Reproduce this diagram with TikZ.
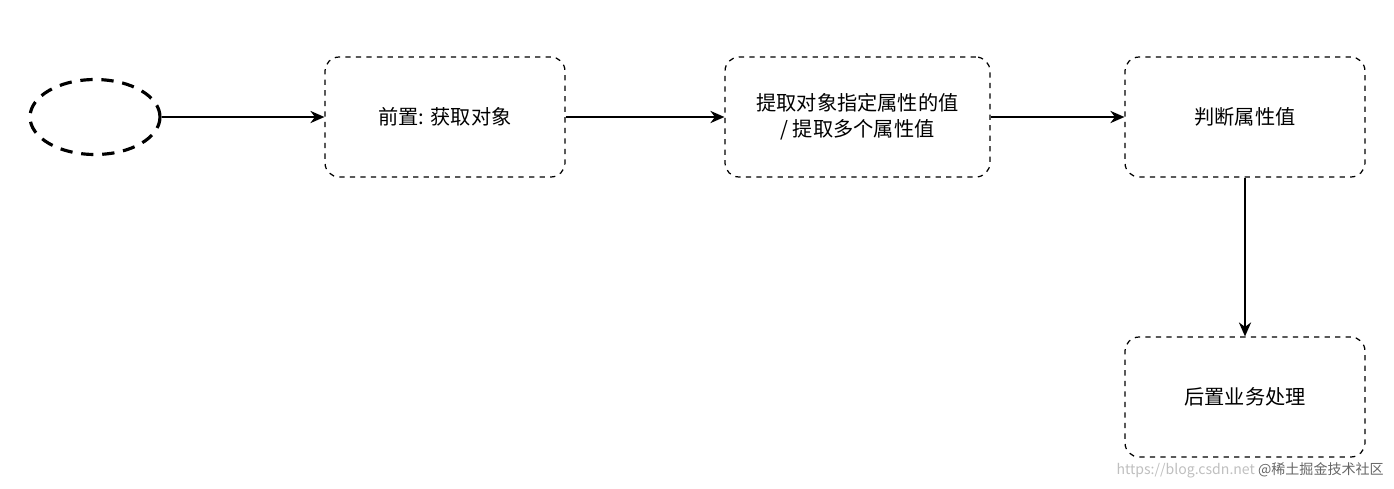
\documentclass[tikz,border=0pt]{standalone}
\usepackage{fontspec}
\setmainfont{Noto Sans CJK SC}
\usetikzlibrary{arrows.meta,shapes.geometric}
\begin{document}
\begin{tikzpicture}[x=0.02cm,y=-0.02cm,
  box/.style={draw,dashed,rounded corners=8pt,minimum width=4.8cm,minimum height=2.4cm,align=center,font=\fontsize{11.5}{15}\selectfont,line width=0.7pt},
  arr/.style={-{Stealth[length=8pt,width=7pt]},line width=0.8pt}]
\useasboundingbox (0,0) rectangle (1394,488);
\node[draw,ellipse,dashed,line width=1.8pt,dash pattern=on 7pt off 5pt,minimum width=2.6cm,minimum height=1.5cm] (e) at (95,117) {};
\node[box] (b1) at (445,117) {前置: 获取对象};
\node[box,minimum width=5.3cm] (b2) at (857.5,117) {提取对象指定属性的值\\/ 提取多个属性值};
\node[box] (b3) at (1245,117) {判断属性值};
\node[box] (b4) at (1245,397) {后置业务处理};
\draw[arr] (e) -- (b1);
\draw[arr] (b1) -- (b2);
\draw[arr] (b2) -- (b3);
\draw[arr] (b3) -- (b4);
\node[anchor=east,text=black!25,font=\fontsize{8}{10}\selectfont] (w) at (1390,470) {https://blog.csdn.net \textcolor{black!60}{@稀土掘金技术社区}};
\end{tikzpicture}
\end{document}
